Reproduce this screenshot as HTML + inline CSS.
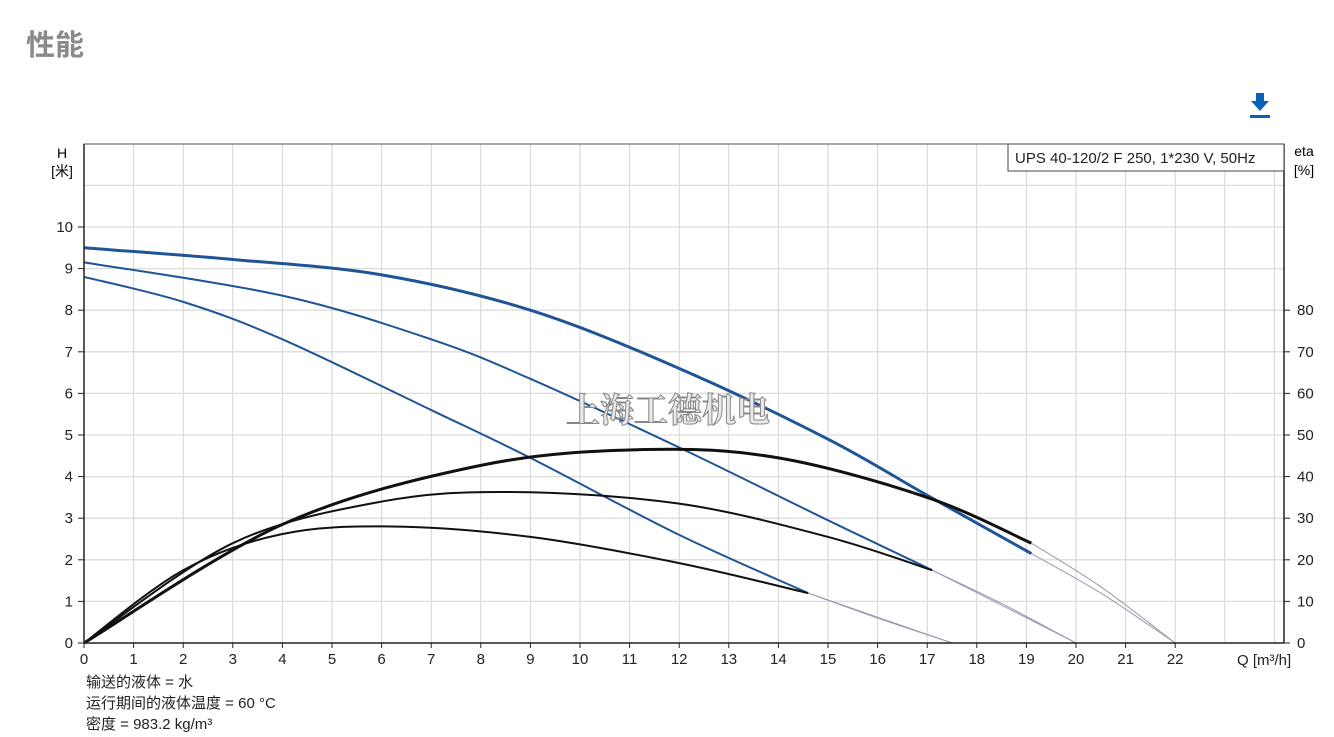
<!DOCTYPE html>
<html><head><meta charset="utf-8"><style>
body{margin:0;background:#fff;width:1334px;height:737px;overflow:hidden;font-family:"Liberation Sans","Noto Sans CJK SC",sans-serif;}
</style></head><body>
<svg id="s" width="1334" height="737" xmlns="http://www.w3.org/2000/svg" style="position:absolute;left:0;top:0">
<text x="26" y="55" font-size="29" font-weight="bold" fill="#8a8a8a" font-family="Noto Sans CJK SC,sans-serif">性能</text>
<g fill="#0a62b4"><rect x="1256" y="93" width="8" height="9"/><polygon points="1251,101 1269,101 1260,111"/><rect x="1250" y="115" width="20" height="3"/></g>
<g id="grid" stroke="#dcdcdc" stroke-width="1.3"></g>
<g id="curves" fill="none"></g>
<rect x="84" y="144" width="1200" height="499" fill="none" stroke="#555" stroke-width="1"/>
<line x1="84" y1="144" x2="84" y2="643" stroke="#222" stroke-width="1.5"/>
<line x1="84" y1="643" x2="1284" y2="643" stroke="#222" stroke-width="1.5"/>
<line x1="1284" y1="144" x2="1284" y2="643" stroke="#222" stroke-width="1.5"/>
<g id="ticks" font-size="15" fill="#222"></g>
<text x="62" y="158" font-size="14" text-anchor="middle">H</text>
<text x="62" y="176" font-size="14" text-anchor="middle">[米]</text>
<text x="1304" y="156" font-size="14" text-anchor="middle">eta</text>
<text x="1304" y="175" font-size="14" text-anchor="middle">[%]</text>
<rect x="1008" y="144" width="276" height="27" fill="#fff" stroke="#444"/>
<text x="1015" y="163" font-size="15" fill="#222">UPS 40-120/2 F 250, 1*230 V, 50Hz</text>
<text x="1237" y="665" font-size="15" fill="#222">Q [m³/h]</text>
<text x="668" y="422" font-size="34" font-weight="bold" fill="#e8e8e8" stroke="#888" stroke-width="1" text-anchor="middle" font-family="Noto Serif CJK SC,serif">上海工德机电</text>
<g font-size="15" fill="#222">
<text x="86" y="687">输送的液体 = 水</text>
<text x="86" y="708">运行期间的液体温度 = 60 °C</text>
<text x="86" y="729">密度 = 983.2 kg/m³</text>
</g>
</svg>
<script>
var NS="http://www.w3.org/2000/svg";
function px(q){return 84+49.6*q}function py(h){return 643-41.6*h}
function el(p,t,a){var e=document.createElementNS(NS,t);for(var k in a)e.setAttribute(k,a[k]);if(a.txt){e.textContent=a.txt;e.removeAttribute('txt');}document.getElementById(p).appendChild(e);return e}
for(var q=1;q<=24;q++)el('grid','line',{x1:px(q),y1:144,x2:px(q),y2:643});
for(var h=1;h<=11;h++)el('grid','line',{x1:84,y1:py(h),x2:1284,y2:py(h)});
for(var q=0;q<=22;q++){el('ticks','text',{x:px(q),y:664,'text-anchor':'middle',txt:''+q});el('ticks','line',{x1:px(q),y1:643,x2:px(q),y2:648,stroke:'#222'});}
for(var h=0;h<=10;h++){el('ticks','text',{x:73,y:py(h)+5,'text-anchor':'end',txt:''+h});el('ticks','line',{x1:78,y1:py(h),x2:84,y2:py(h),stroke:'#222'});}
for(var e=0;e<=8;e++){el('ticks','text',{x:1297,y:py(e)+5,txt:''+(e*10)});el('ticks','line',{x1:1284,y1:py(e),x2:1290,y2:py(e),stroke:'#222'});}
function cr(pts){var P=pts.map(function(p){return[px(p[0]),py(p[1])]});var d='M'+P[0][0]+','+P[0][1];
for(var i=0;i<P.length-1;i++){var p0=P[i-1]||P[i],p1=P[i],p2=P[i+1],p3=P[i+2]||P[i+1];
d+=' C'+(p1[0]+(p2[0]-p0[0])/6)+','+(p1[1]+(p2[1]-p0[1])/6)+' '+(p2[0]-(p3[0]-p1[0])/6)+','+(p2[1]-(p3[1]-p1[1])/6)+' '+p2[0]+','+p2[1];}return d}
function line(pts,c,w){el('curves','path',{d:cr(pts),stroke:c,'stroke-width':w})}
var gray='#9a9aae';
line([[19.1,2.15],[20.5,1.2],[22,0]],gray,1);line([[19.1,2.4],[20.5,1.35],[22,0]],gray,1);
line([[17.1,1.75],[18.5,0.95],[20,0]],gray,1);line([[17.1,1.75],[18.6,0.85],[20,0]],gray,1);
line([[14.6,1.2],[16,0.62],[17.5,0]],gray,1);line([[14.6,1.2],[16,0.6],[17.5,0]],gray,1);
var blue='#1f5596';
line([[0,9.5],[3,9.22],[6,8.85],[9,8.0],[12,6.6],[15,4.9],[17,3.55],[19.1,2.15]],blue,3);
line([[0,9.15],[4,8.35],[7,7.3],[9,6.35],[12,4.7],[15,2.95],[17.1,1.75]],blue,2);
line([[0,8.8],[2,8.2],[4,7.3],[7,5.6],[9,4.45],[12,2.6],[14.6,1.2]],blue,2);
line([[0,0],[4,2.85],[8,4.27],[11.3,4.65],[14,4.45],[17,3.5],[19.1,2.4]],'#111',3);
line([[0,0],[3,2.4],[6,3.4],[8.6,3.63],[12,3.35],[15,2.55],[17.1,1.75]],'#111',2);
line([[0,0],[2,1.75],[4,2.62],[6.2,2.8],[9,2.55],[12,1.92],[14.6,1.2]],'#111',2);
</script>
</body></html>
